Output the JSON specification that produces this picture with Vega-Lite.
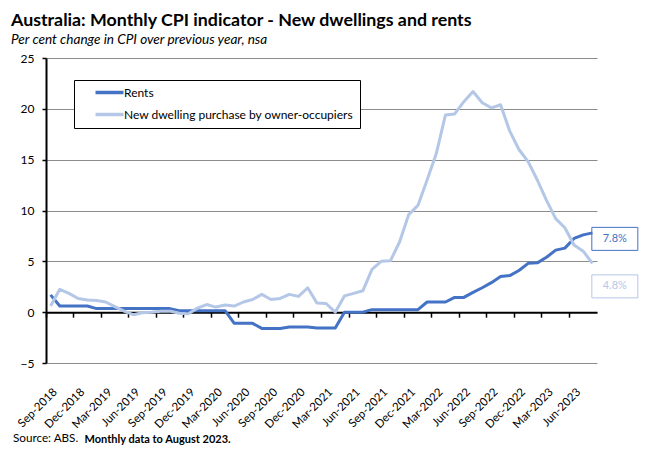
{
  "$schema": "https://vega.github.io/schema/vega-lite/v6.json",
  "width": 551,
  "height": 305,
  "autosize": {"type": "none"},
  "padding": {"left": 46, "top": 58, "right": 53, "bottom": 92},
  "background": "white",
  "title": {
    "text": "Australia: Monthly CPI indicator - New dwellings and rents",
    "subtitle": "Per cent change in CPI over previous year, nsa",
    "anchor": "start",
    "frame": "group",
    "dx": -35,
    "font": "Lato",
    "fontSize": 17.8,
    "fontWeight": "bold",
    "color": "black",
    "subtitleFont": "Lato",
    "subtitleFontSize": 13.6,
    "subtitleFontStyle": "italic",
    "subtitleColor": "black",
    "subtitlePadding": 4,
    "offset": 5
  },
  "datasets": {
    "cpi": [
      {"month": "Sep-2018", "Rents": 1.7, "New dwelling purchase by owner-occupiers": 0.6},
      {"month": "Oct-2018", "Rents": 0.6, "New dwelling purchase by owner-occupiers": 2.25},
      {"month": "Nov-2018", "Rents": 0.6, "New dwelling purchase by owner-occupiers": 1.85},
      {"month": "Dec-2018", "Rents": 0.6, "New dwelling purchase by owner-occupiers": 1.35},
      {"month": "Jan-2019", "Rents": 0.6, "New dwelling purchase by owner-occupiers": 1.2},
      {"month": "Feb-2019", "Rents": 0.35, "New dwelling purchase by owner-occupiers": 1.15},
      {"month": "Mar-2019", "Rents": 0.35, "New dwelling purchase by owner-occupiers": 1.0},
      {"month": "Apr-2019", "Rents": 0.35, "New dwelling purchase by owner-occupiers": 0.55},
      {"month": "May-2019", "Rents": 0.35, "New dwelling purchase by owner-occupiers": 0.1},
      {"month": "Jun-2019", "Rents": 0.35, "New dwelling purchase by owner-occupiers": -0.25},
      {"month": "Jul-2019", "Rents": 0.35, "New dwelling purchase by owner-occupiers": -0.05},
      {"month": "Aug-2019", "Rents": 0.35, "New dwelling purchase by owner-occupiers": 0.0},
      {"month": "Sep-2019", "Rents": 0.35, "New dwelling purchase by owner-occupiers": 0.1},
      {"month": "Oct-2019", "Rents": 0.35, "New dwelling purchase by owner-occupiers": 0.1},
      {"month": "Nov-2019", "Rents": 0.15, "New dwelling purchase by owner-occupiers": -0.1},
      {"month": "Dec-2019", "Rents": 0.15, "New dwelling purchase by owner-occupiers": -0.15},
      {"month": "Jan-2020", "Rents": 0.15, "New dwelling purchase by owner-occupiers": 0.4},
      {"month": "Feb-2020", "Rents": 0.15, "New dwelling purchase by owner-occupiers": 0.75},
      {"month": "Mar-2020", "Rents": 0.15, "New dwelling purchase by owner-occupiers": 0.5},
      {"month": "Apr-2020", "Rents": 0.15, "New dwelling purchase by owner-occupiers": 0.7},
      {"month": "May-2020", "Rents": -1.1, "New dwelling purchase by owner-occupiers": 0.6},
      {"month": "Jun-2020", "Rents": -1.1, "New dwelling purchase by owner-occupiers": 1.0},
      {"month": "Jul-2020", "Rents": -1.1, "New dwelling purchase by owner-occupiers": 1.25},
      {"month": "Aug-2020", "Rents": -1.6, "New dwelling purchase by owner-occupiers": 1.75},
      {"month": "Sep-2020", "Rents": -1.6, "New dwelling purchase by owner-occupiers": 1.25},
      {"month": "Oct-2020", "Rents": -1.6, "New dwelling purchase by owner-occupiers": 1.35},
      {"month": "Nov-2020", "Rents": -1.45, "New dwelling purchase by owner-occupiers": 1.75},
      {"month": "Dec-2020", "Rents": -1.45, "New dwelling purchase by owner-occupiers": 1.55},
      {"month": "Jan-2021", "Rents": -1.45, "New dwelling purchase by owner-occupiers": 2.4},
      {"month": "Feb-2021", "Rents": -1.55, "New dwelling purchase by owner-occupiers": 0.9},
      {"month": "Mar-2021", "Rents": -1.55, "New dwelling purchase by owner-occupiers": 0.85},
      {"month": "Apr-2021", "Rents": -1.55, "New dwelling purchase by owner-occupiers": 0.0},
      {"month": "May-2021", "Rents": 0.0, "New dwelling purchase by owner-occupiers": 1.6},
      {"month": "Jun-2021", "Rents": 0.0, "New dwelling purchase by owner-occupiers": 1.85},
      {"month": "Jul-2021", "Rents": 0.0, "New dwelling purchase by owner-occupiers": 2.1},
      {"month": "Aug-2021", "Rents": 0.25, "New dwelling purchase by owner-occupiers": 4.2},
      {"month": "Sep-2021", "Rents": 0.25, "New dwelling purchase by owner-occupiers": 5.0},
      {"month": "Oct-2021", "Rents": 0.25, "New dwelling purchase by owner-occupiers": 5.05},
      {"month": "Nov-2021", "Rents": 0.25, "New dwelling purchase by owner-occupiers": 6.9},
      {"month": "Dec-2021", "Rents": 0.25, "New dwelling purchase by owner-occupiers": 9.6},
      {"month": "Jan-2022", "Rents": 0.25, "New dwelling purchase by owner-occupiers": 10.5},
      {"month": "Feb-2022", "Rents": 1.0, "New dwelling purchase by owner-occupiers": 13.0},
      {"month": "Mar-2022", "Rents": 1.0, "New dwelling purchase by owner-occupiers": 15.6},
      {"month": "Apr-2022", "Rents": 1.0, "New dwelling purchase by owner-occupiers": 19.4},
      {"month": "May-2022", "Rents": 1.45, "New dwelling purchase by owner-occupiers": 19.5},
      {"month": "Jun-2022", "Rents": 1.45, "New dwelling purchase by owner-occupiers": 20.7},
      {"month": "Jul-2022", "Rents": 1.95, "New dwelling purchase by owner-occupiers": 21.7},
      {"month": "Aug-2022", "Rents": 2.4, "New dwelling purchase by owner-occupiers": 20.6},
      {"month": "Sep-2022", "Rents": 2.9, "New dwelling purchase by owner-occupiers": 20.1},
      {"month": "Oct-2022", "Rents": 3.5, "New dwelling purchase by owner-occupiers": 20.4},
      {"month": "Nov-2022", "Rents": 3.6, "New dwelling purchase by owner-occupiers": 17.8},
      {"month": "Dec-2022", "Rents": 4.1, "New dwelling purchase by owner-occupiers": 16.0},
      {"month": "Jan-2023", "Rents": 4.8, "New dwelling purchase by owner-occupiers": 14.8},
      {"month": "Feb-2023", "Rents": 4.85, "New dwelling purchase by owner-occupiers": 13.0},
      {"month": "Mar-2023", "Rents": 5.4, "New dwelling purchase by owner-occupiers": 11.0},
      {"month": "Apr-2023", "Rents": 6.1, "New dwelling purchase by owner-occupiers": 9.2},
      {"month": "May-2023", "Rents": 6.3, "New dwelling purchase by owner-occupiers": 8.3},
      {"month": "Jun-2023", "Rents": 7.25, "New dwelling purchase by owner-occupiers": 6.6},
      {"month": "Jul-2023", "Rents": 7.6, "New dwelling purchase by owner-occupiers": 6.0},
      {"month": "Aug-2023", "Rents": 7.8, "New dwelling purchase by owner-occupiers": 4.8}
    ],
    "labels": [
      {"month": "Aug-2023", "series": "Rents", "value": 7.8, "label": "7.8%"},
      {"month": "Aug-2023", "series": "New dwelling purchase by owner-occupiers", "value": 4.8, "label": "4.8%"}
    ]
  },
  "layer": [
    {
      "data": {"name": "cpi"},
      "transform": [
        {"fold": ["Rents", "New dwelling purchase by owner-occupiers"], "as": ["series", "value"]}
      ],
      "mark": {"type": "line", "strokeWidth": 3, "strokeJoin": "round"},
      "encoding": {
        "x": {
          "field": "month",
          "type": "ordinal",
          "sort": null,
          "bandPosition": 0.5,
          "scale": {"type": "band", "paddingInner": 0, "paddingOuter": 0},
          "axis": {
            "values": ["Sep-2018", "Dec-2018", "Mar-2019", "Jun-2019", "Sep-2019", "Dec-2019", "Mar-2020", "Jun-2020", "Sep-2020", "Dec-2020", "Mar-2021", "Jun-2021", "Sep-2021", "Dec-2021", "Mar-2022", "Jun-2022", "Sep-2022", "Dec-2022", "Mar-2023", "Jun-2023"],
            "bandPosition": 0,
            "offset": -50.83,
            "grid": false,
            "domainColor": "black",
            "domainWidth": 2,
            "tickColor": "black",
            "tickSize": 5,
            "tickWidth": 1.5,
            "labelAngle": -45,
            "labelAlign": "right",
            "labelBaseline": "middle",
            "labelPadding": 73,
            "labelOffset": 5,
            "labelOverlap": false,
            "labelBound": false,
            "labelFlush": false,
            "labelFont": "Lato",
            "labelFontSize": 11.5,
            "labelColor": "black",
            "title": "Source: ABS.",
            "titleX": -33.5,
            "titleY": 129.8,
            "titleAlign": "left",
            "titleBaseline": "alphabetic",
            "titleFont": "Lato",
            "titleFontSize": 11.7,
            "titleFontWeight": "normal",
            "titleColor": "black"
          }
        },
        "y": {
          "field": "value",
          "type": "quantitative",
          "scale": {"domain": [-5, 25], "nice": false, "zero": false},
          "axis": {
            "values": [-5, 0, 5, 10, 15, 20, 25],
            "grid": true,
            "gridColor": "#8c8c8c",
            "gridWidth": 1,
            "domainColor": "black",
            "domainWidth": 2,
            "tickColor": "black",
            "tickSize": 4,
            "tickWidth": 1.5,
            "labelPadding": 8,
            "labelFont": "Lato",
            "labelFontSize": 12,
            "labelColor": "black",
            "title": "Monthly data to August 2023.",
            "titleAngle": 0,
            "titleX": 38,
            "titleY": 384,
            "titleAlign": "left",
            "titleBaseline": "alphabetic",
            "titleFont": "Lato",
            "titleFontSize": 11,
            "titleFontWeight": "bold",
            "titleColor": "black"
          }
        },
        "color": {
          "field": "series",
          "type": "nominal",
          "scale": {
            "domain": ["Rents", "New dwelling purchase by owner-occupiers"],
            "range": ["#4472C4", "#B4C7E7"]
          },
          "legend": {
            "orient": "none",
            "legendX": 28,
            "legendY": 22,
            "title": null,
            "direction": "vertical",
            "strokeColor": "black",
            "fillColor": "white",
            "padding": 6,
            "symbolType": "M-3,0H3",
            "symbolSize": 87,
            "symbolStrokeWidth": 3.5,
            "symbolOffset": 23,
            "labelOffset": 8,
            "labelFont": "Lato",
            "labelFontSize": 12,
            "labelColor": "black",
            "labelLimit": 400,
            "labelExpr": "datum.label + '         '",
            "rowPadding": 7
          }
        }
      }
    },
    {
      "data": {"name": "labels"},
      "transform": [{"filter": "datum.series === 'Rents'"}],
      "encoding": {
        "x": {"field": "month", "type": "ordinal", "sort": null, "bandPosition": 0.5},
        "y": {"field": "value", "type": "quantitative"},
        "xOffset": {"value": 27},
        "yOffset": {"value": 6}
      },
      "layer": [
        {"mark": {"type": "point", "shape": "M-1,-0.5H1V0.5H-1Z", "size": 2116, "filled": false, "stroke": "#4472C4", "strokeWidth": 1, "opacity": 1}},
        {"mark": {"type": "text", "font": "Lato", "fontSize": 11, "color": "#4472C4"}, "encoding": {"text": {"field": "label"}}}
      ]
    },
    {
      "data": {"name": "labels"},
      "transform": [{"filter": "datum.series !== 'Rents'"}],
      "encoding": {
        "x": {"field": "month", "type": "ordinal", "sort": null, "bandPosition": 0.5},
        "y": {"field": "value", "type": "quantitative"},
        "xOffset": {"value": 27},
        "yOffset": {"value": 23}
      },
      "layer": [
        {"mark": {"type": "point", "shape": "M-1,-0.5H1V0.5H-1Z", "size": 2116, "filled": false, "stroke": "#B4C7E7", "strokeWidth": 1, "opacity": 1}},
        {"mark": {"type": "text", "font": "Lato", "fontSize": 11, "color": "#B4C7E7"}, "encoding": {"text": {"field": "label"}}}
      ]
    }
  ],
  "config": {"view": {"stroke": null}}
}
